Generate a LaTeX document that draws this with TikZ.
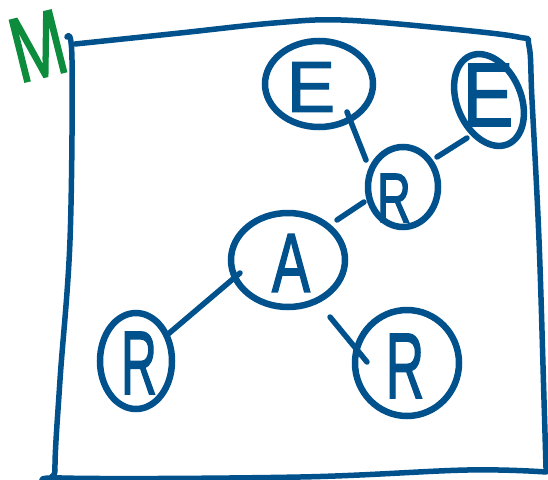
\documentclass[tikz,border=0pt]{standalone}
\usepackage{fontspec}
\setmainfont{Liberation Sans}
\newfontfamily\hand[FakeBold=2]{Liberation Sans}
\usetikzlibrary{shapes.geometric,calc}
\definecolor{ink}{RGB}{0,81,140}
\definecolor{mgreen}{RGB}{12,140,60}
\begin{document}
\begin{tikzpicture}[x=1pt,y=-1pt,
  bubble/.style={ellipse,draw=ink,line width=6.5pt,inner sep=0pt},
  letter/.style={text=ink,inner sep=0pt,anchor=center},
  link/.style={draw=ink,line width=5.5pt,line cap=round},
  frame/.style={draw=ink,line width=5.5pt,line cap=round,line join=round}]
\useasboundingbox (0,0) rectangle (548,479);
% frame
\draw[frame] plot[smooth,tension=0.6] coordinates {(75,44) (180,33) (274,23) (341,20) (441,28) (518,37) (529,46) (532,100) (539,240) (544,400) (546,468)};
\draw[frame] plot[smooth,tension=0.6] coordinates {(546,472) (467,470) (300,477) (62,478) (55,470) (60,380) (70,240) (72,60) (67,37)};
% bubbles
\node[bubble,minimum width=108pt,minimum height=86pt] (e1) at (319,84) {};
\node[bubble,minimum width=96pt,minimum height=64pt,rotate=-67] (e2) at (489,100) {};
\node[bubble,minimum width=70pt,minimum height=80pt] (r2) at (403,187) {};
\node[bubble,minimum width=114pt,minimum height=94pt] (a) at (288,260) {};
\node[bubble,minimum width=72pt,minimum height=96pt] (r1) at (136,361) {};
\node[bubble,minimum width=104pt,minimum height=106pt] (r3) at (407,363) {};
% letters
\node[letter,font=\hand\fontsize{72}{72}\selectfont] (le1) at (311,87) {E};
\node[letter,font=\hand\fontsize{90}{90}\selectfont] (le2) at (488,95) {\scalebox{0.85}[1]{E}};
\node[letter,font=\hand\fontsize{70}{70}\selectfont] (lr2) at (394,198) {\scalebox{0.67}[1]{R}};
\node[letter,font=\hand\fontsize{84}{84}\selectfont] (la) at (291,263) {\scalebox{0.68}[1]{A}};
\node[letter,font=\hand\fontsize{90}{90}\selectfont] (lr1) at (139,363) {\scalebox{0.55}[1]{R}};
\node[letter,font=\hand\fontsize{93}{93}\selectfont] (lr3) at (405,366) {\scalebox{0.57}[1]{R}};
\node[text=mgreen,font=\hand\fontsize{92}{92}\selectfont,rotate=14,inner sep=0pt] (m) at (38,46) {\scalebox{0.7}[1]{M}};
% links
\draw[link] ($(e1.center)+(28,28)$) -- ($(r2.center)+(-37,-27)$);
\draw[link] ($(r2.center)+(34,-30)$) -- ($(e2.center)+(-22,38)$);
\draw[link] ($(r2.center)+(-39,15)$) -- ($(a.center)+(49,-40)$);
\draw[link] ($(a.center)+(-48,13)$) -- ($(r1.center)+(31,-26)$);
\draw[link] ($(a.center)+(42,57)$) -- ($(r3.center)+(-40,-1)$);
\end{tikzpicture}
\end{document}
